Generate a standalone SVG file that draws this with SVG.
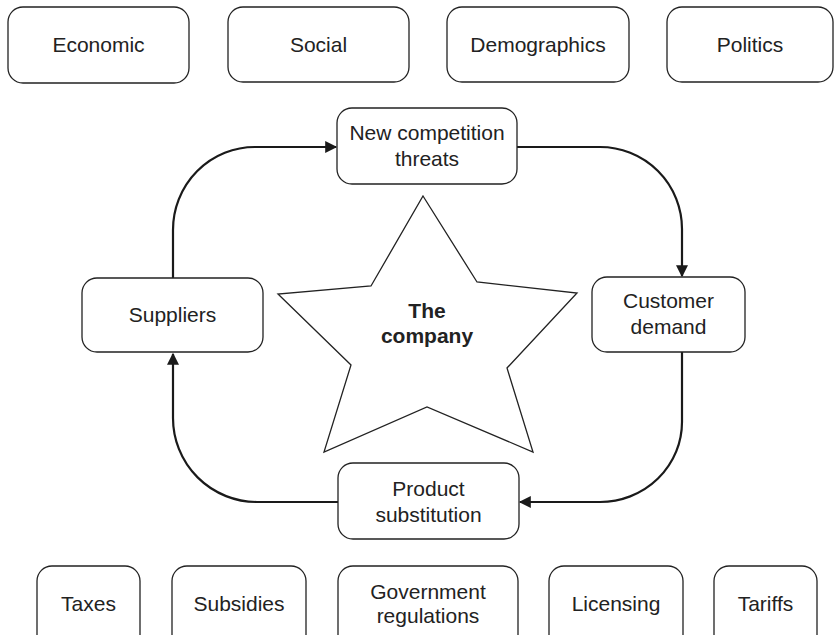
<svg xmlns="http://www.w3.org/2000/svg" width="840" height="635" viewBox="0 0 840 635">
<style>
.box{fill:#fff;stroke:#222;stroke-width:1.3}
.t{font-family:"Liberation Sans",Arial,sans-serif;font-size:21px;fill:#222;text-anchor:middle}
.b{font-weight:bold}
.c{fill:none;stroke:#1a1a1a;stroke-width:2.2}
</style>
<defs>
<marker id="ah" viewBox="0 0 10 10" refX="9" refY="5" markerWidth="13" markerHeight="12" markerUnits="userSpaceOnUse" orient="auto">
<path d="M0,0 L10,5 L0,10 z" fill="#1a1a1a"/>
</marker>
</defs>
<rect width="840" height="635" fill="#fff"/>
<g id="connectors">
<path class="c" d="M173,278 V230 A82,83 0 0 1 255,147 H336" marker-end="url(#ah)"/>
<path class="c" d="M517,147 H600 A82,82 0 0 1 682,229 V276" marker-end="url(#ah)"/>
<path class="c" d="M682,352 V422 A82,80 0 0 1 600,502 H520" marker-end="url(#ah)"/>
<path class="c" d="M338,502 H257 A84,84 0 0 1 173,418 V354" marker-end="url(#ah)"/>
</g>
<g id="economic"><rect class="box" x="8" y="7" width="181" height="76" rx="15"/><text class="t" x="98.5" y="52">Economic</text></g>
<g id="social"><rect class="box" x="228" y="7" width="181" height="75" rx="15"/><text class="t" x="318.5" y="52">Social</text></g>
<g id="demographics"><rect class="box" x="447" y="7" width="182" height="75" rx="15"/><text class="t" x="538" y="52">Demographics</text></g>
<g id="politics"><rect class="box" x="667" y="7" width="166" height="75" rx="15"/><text class="t" x="750" y="52">Politics</text></g>
<g id="new-competition"><rect class="box" x="337" y="108" width="180" height="76" rx="15"/><text class="t" x="427" y="140">New competition</text><text class="t" x="427" y="166">threats</text></g>
<g id="customer-demand"><rect class="box" x="592" y="277" width="153" height="75" rx="15"/><text class="t" x="668.5" y="308">Customer</text><text class="t" x="668.5" y="334">demand</text></g>
<g id="suppliers"><rect class="box" x="82" y="278" width="181" height="74" rx="15"/><text class="t" x="172.5" y="322">Suppliers</text></g>
<g id="product-substitution"><rect class="box" x="338" y="463" width="181" height="76" rx="15"/><text class="t" x="428.5" y="496">Product</text><text class="t" x="428.5" y="522">substitution</text></g>
<g id="company"><polygon class="box" points="423,196 477,282 577,293 507,368 533,452 427,407 324,452 351,365 278,294 371,286"/><text class="t b" x="427" y="318">The</text><text class="t b" x="427" y="343">company</text></g>
<g id="taxes"><rect class="box" x="37" y="566" width="103" height="90" rx="15"/><text class="t" x="88.5" y="611">Taxes</text></g>
<g id="subsidies"><rect class="box" x="172" y="566" width="134" height="90" rx="15"/><text class="t" x="239" y="611">Subsidies</text></g>
<g id="government-regulations"><rect class="box" x="338" y="566" width="180" height="90" rx="15"/><text class="t" x="428" y="599">Government</text><text class="t" x="428" y="623">regulations</text></g>
<g id="licensing"><rect class="box" x="549" y="566" width="134" height="90" rx="15"/><text class="t" x="616" y="611">Licensing</text></g>
<g id="tariffs"><rect class="box" x="714" y="566" width="103" height="90" rx="15"/><text class="t" x="765.5" y="611">Tariffs</text></g>
</svg>
